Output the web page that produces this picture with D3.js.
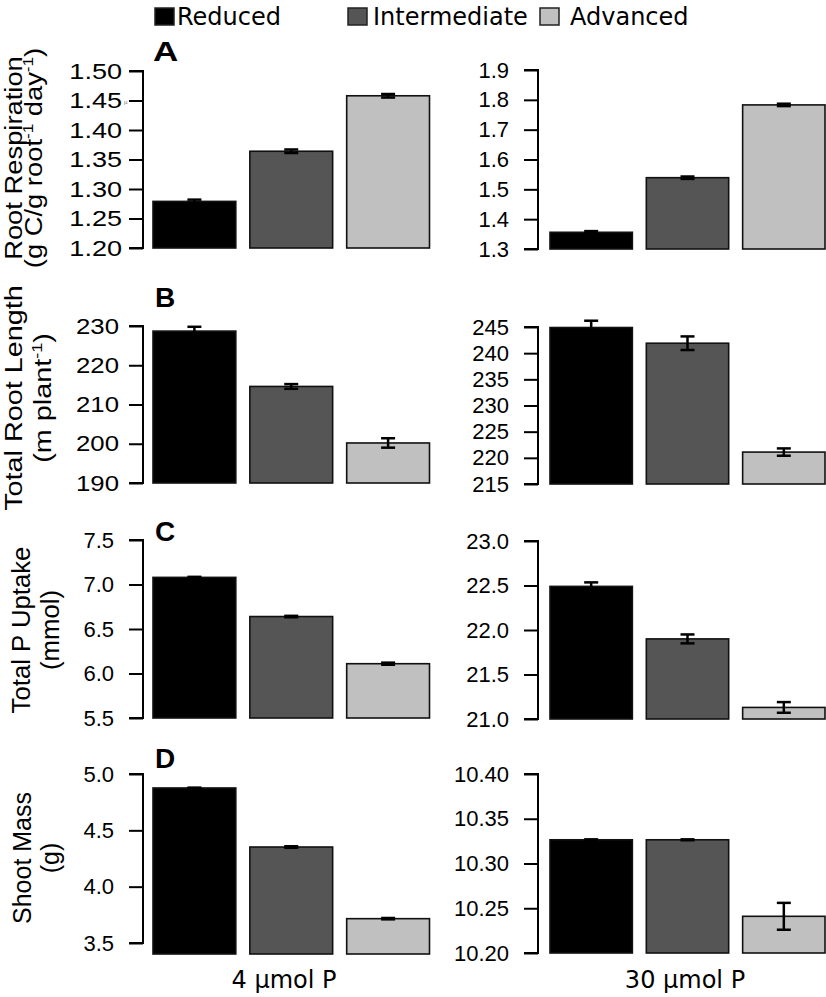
<!DOCTYPE html>
<html>
<head>
<meta charset="utf-8">
<script src="https://cdn.jsdelivr.net/npm/d3@7"></script>
<style>
  html, body { margin: 0; padding: 0; background: #fff; }
  svg { display: block; }
</style>
</head>
<body>
<svg id="chart" width="826" height="997"></svg>
<script>
// ---------------- DATA ----------------
const categories = ["Reduced", "Intermediate", "Advanced"];
const columns = ["4 µmol P", "30 µmol P"];
const panelLetters = ["A", "B", "C", "D"];

const respiration4   = [1.279, 1.364, 1.458];
const respirationErr4 = [0.003, 0.003, 0.003];
const respiration30  = [1.356, 1.539, 1.783];
const respirationErr30 = [0.004, 0.004, 0.004];

const rootLength4    = [228.7, 214.6, 200.2];
const rootLengthErr4 = [1.1, 0.6, 1.2];
const rootLength30   = [244.9, 241.9, 221.1];
const rootLengthErr30 = [1.3, 1.3, 0.7];

const uptake4        = [7.08, 6.64, 6.11];
const uptakeErr4     = [0.006, 0.008, 0.012];
const uptake30       = [22.49, 21.90, 21.13];
const uptakeErr30    = [0.045, 0.05, 0.06];

const shoot4         = [4.876, 4.352, 3.716];
const shootErr4      = [0.003, 0.007, 0.006];
const shoot30        = [10.3265, 10.3265, 10.241];
const shootErr30     = [0.0005, 0.0005, 0.015];

const ticksA4 = [1.20, 1.25, 1.30, 1.35, 1.40, 1.45, 1.50];
const ticksA30 = [1.3, 1.4, 1.5, 1.6, 1.7, 1.8, 1.9];
const ticksB4 = [190, 200, 210, 220, 230];
const ticksB30 = [215, 220, 225, 230, 235, 240, 245];
const ticksC4 = [5.5, 6.0, 6.5, 7.0, 7.5];
const ticksC30 = [21.0, 21.5, 22.0, 22.5, 23.0];
const ticksD4 = [3.5, 4.0, 4.5, 5.0];
const ticksD30 = [10.20, 10.25, 10.30, 10.35, 10.40];

const tickFormats = [[".2f", ".1f"], ["d", "d"], [".1f", ".1f"], [".1f", ".2f"]];

const yTitles = [
  ["Root Respiration", [["(g C/g root", ""], ["-1", "sup"], [" day", ""], ["-1", "sup"], [")", ""]]],
  ["Total Root Length", [["(m plant", ""], ["-1", "sup"], [")", ""]]],
  ["Total P Uptake", [["(mmol)", ""]]],
  ["Shoot Mass", [["(g)", ""]]]
];

const values = [[respiration4, respiration30], [rootLength4, rootLength30], [uptake4, uptake30], [shoot4, shoot30]];
const errors = [[respirationErr4, respirationErr30], [rootLengthErr4, rootLengthErr30], [uptakeErr4, uptakeErr30], [shootErr4, shootErr30]];
const ticks = [[ticksA4, ticksA30], [ticksB4, ticksB30], [ticksC4, ticksC30], [ticksD4, ticksD30]];

const colors = ["#000000", "#555555", "#c0c0c0"];

// ---------------- LAYOUT ----------------
const colLayout = [
  { axisX: 143, x0: 153, x1: 429.5 },
  { axisX: 538, x0: 550, x1: 825 }
];
// per row, per column: [axisTop, axisBottom, barBottom]
const rowLayout = [
  [[71, 248, 248], [70, 249, 249]],
  [[326, 483, 483], [327, 484, 484]],
  [[540, 718, 718], [541, 719, 719]],
  [[774, 943, 954], [774, 953, 953]]
];
// tick label padding and horizontal stretch per row, per column
const tickStyle = [
  [[7, 1.23], [15, 1]],
  [[10, 1.17], [15, 1]],
  [[15, 1], [15, 1]],
  [[15, 1], [15, 1]]
];
const letterPos = [[153, 61, 1.25], [155, 307, 1], [155, 541, 1], [155, 768, 1]];
const titlePos = [ // [line1 baselineX, line2 baselineX, centerY, fontSize, stretch]
  [22, 42, 158, 24, 1.14],
  [22, 51, 398, 24, 1.2],
  [30, 59, 630, 25, 1.03],
  [31, 59, 858, 25, 1.0]
];

const svg = d3.select("#chart");
const tickFont = "'Liberation Sans', Arial, sans-serif";
const sansFont = "'DejaVu Sans', sans-serif";

// ---------------- LEGEND ----------------
const legendX = [[155, 177], [348, 373], [540, 570]];
categories.forEach((c, i) => {
  svg.append("rect")
    .attr("x", legendX[i][0]).attr("y", 8)
    .attr("width", 19).attr("height", 17)
    .attr("fill", colors[i]).attr("stroke", "#222").attr("stroke-width", 1.5);
  svg.append("text")
    .attr("x", legendX[i][1]).attr("y", 25)
    .attr("font-family", sansFont).attr("font-size", 24)
    .attr("fill", "#000").text(c);
});

// ---------------- PANELS ----------------
values.forEach((rowVals, r) => {
  // panel letter
  svg.append("text")
    .attr("transform", `translate(${letterPos[r][0]},${letterPos[r][1]}) scale(${letterPos[r][2]},1)`)
    .attr("font-family", tickFont).attr("font-weight", "bold")
    .attr("font-size", 28).text(panelLetters[r]);

  // y title
  const tp = titlePos[r];
  svg.append("text")
    .attr("transform", `translate(${tp[0]},${tp[2]}) rotate(-90) scale(${tp[4]},1)`)
    .attr("text-anchor", "middle")
    .attr("font-family", tickFont).attr("font-size", tp[3])
    .text(yTitles[r][0]);
  const t2 = svg.append("text")
    .attr("transform", `translate(${tp[1]},${tp[2]}) rotate(-90) scale(${tp[4]},1)`)
    .attr("text-anchor", "middle")
    .attr("font-family", tickFont).attr("font-size", tp[3]);
  yTitles[r][1].forEach(([s, kind]) => {
    const ts = t2.append("tspan").text(s);
    if (kind === "sup") ts.attr("font-size", 15).attr("dy", -9);
    else if (t2.selectAll("tspan").size() > 1) ts.attr("dy", 9);
  });

  rowVals.forEach((vals, c) => {
    const cl = colLayout[c];
    const [top, bottom, barBottom] = rowLayout[r][c];
    const tv = ticks[r][c];
    const y = d3.scaleLinear().domain([tv[0], tv[tv.length - 1]]).range([bottom, top]);
    const x = d3.scaleBand().domain(categories).range([cl.x0, cl.x1]).paddingInner(0.145).paddingOuter(0);

    const g = svg.append("g");
    // bars
    g.selectAll("rect.bar").data(vals).join("rect")
      .attr("class", "bar")
      .attr("x", (d, i) => x(categories[i]))
      .attr("y", d => y(d))
      .attr("width", x.bandwidth())
      .attr("height", d => barBottom - y(d))
      .attr("fill", (d, i) => colors[i])
      .attr("stroke", "#111").attr("stroke-width", 1.6);

    // error bars
    const errs = errors[r][c];
    const capW = 14;
    vals.forEach((v, i) => {
      const cx = x(categories[i]) + x.bandwidth() / 2;
      const yHi = y(v + errs[i]), yLo = y(v - errs[i]);
      g.append("line").attr("x1", cx).attr("x2", cx).attr("y1", yHi).attr("y2", yLo)
        .attr("stroke", "#000").attr("stroke-width", 2.5);
      [yHi, yLo].forEach(yy => {
        g.append("line").attr("x1", cx - capW / 2).attr("x2", cx + capW / 2)
          .attr("y1", yy).attr("y2", yy)
          .attr("stroke", "#000").attr("stroke-width", 2.5);
      });
    });

    // axis
    const [pad, sx] = tickStyle[r][c];
    const axis = d3.axisLeft(y).tickValues(tv).tickSize(14).tickPadding(pad)
      .tickFormat(d3.format(tickFormats[r][c]));
    const ag = svg.append("g").attr("transform", `translate(${cl.axisX},0)`).call(axis);
    ag.select(".domain").attr("d", `M-14,${top}H0V${bottom}H-14`).attr("stroke", "#000").attr("stroke-width", 2).attr("fill", "none");
    ag.selectAll(".tick line").attr("stroke", "#000").attr("stroke-width", 2);
    ag.selectAll(".tick text")
      .attr("x", 0)
      .attr("transform", `translate(${-14 - pad},0) scale(${sx},1)`)
      .attr("font-family", tickFont).attr("font-size", 22).attr("fill", "#000");
  });
});

// tiny stray glyph near panel A axis
svg.append("text").attr("x", 124).attr("y", 104)
  .attr("font-family", tickFont).attr("font-size", 6).attr("fill", "#777").text("µ");

// column labels
const colLabelX = [284, 685];
columns.forEach((c, i) => {
  svg.append("text")
    .attr("x", colLabelX[i]).attr("y", 988)
    .attr("text-anchor", "middle")
    .attr("font-family", sansFont).attr("font-size", 24)
    .text(c);
});
</script>
</body>
</html>
